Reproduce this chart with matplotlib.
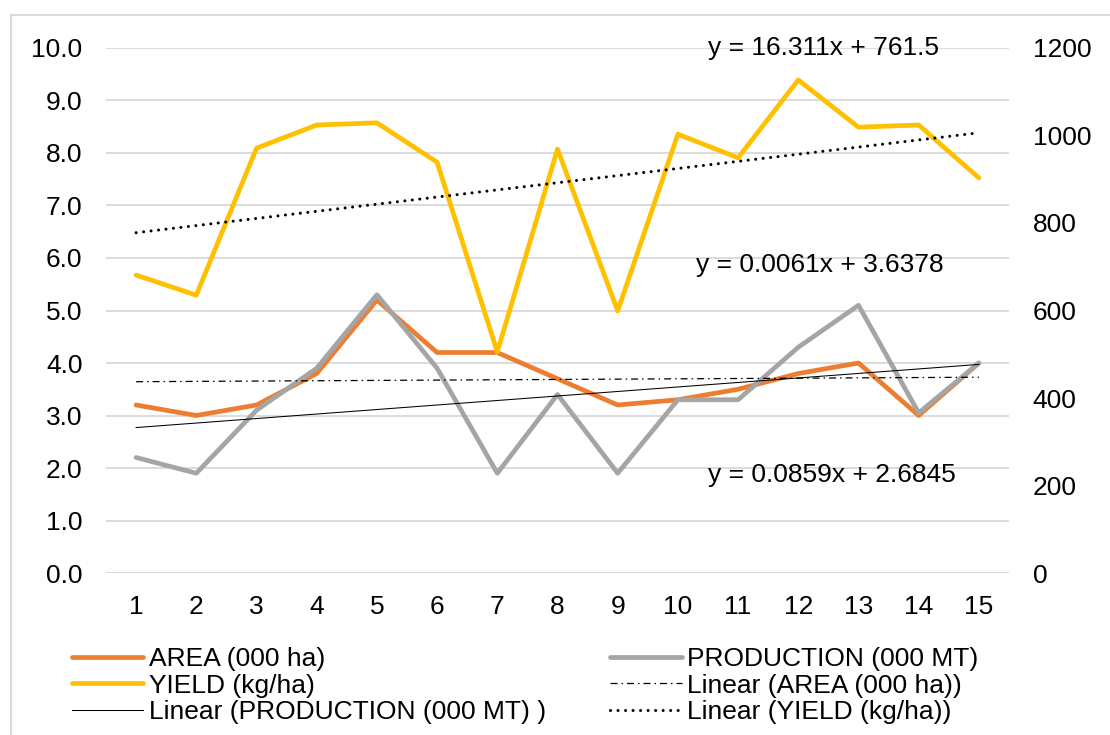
import matplotlib.pyplot as plt
from matplotlib.lines import Line2D

plt.rcParams['font.family'] = ['Liberation Sans', 'DejaVu Sans']

years = list(range(1, 16))
area = [3.2, 3.0, 3.2, 3.8, 5.2, 4.2, 4.2, 3.7, 3.2, 3.3, 3.5, 3.8, 4.0, 3.0, 4.0]
production = [2.2, 1.9, 3.1, 3.9, 5.3, 3.9, 1.9, 3.4, 1.9, 3.3, 3.3, 4.3, 5.1, 3.05, 4.0]
yield_kg = [681, 635, 971, 1024, 1029, 939, 505, 969, 599, 1003, 949, 1127, 1019, 1024, 903]

# trend line coefficients (slope, intercept)
area_fit = (0.0061, 3.6378)
prod_fit = (0.0859, 2.6845)
yield_fit = (16.311, 761.5)

left_ticks = [0, 1, 2, 3, 4, 5, 6, 7, 8, 9, 10]
right_ticks = [0, 200, 400, 600, 800, 1000, 1200]

orange = '#ED7D31'
grey = '#A5A5A5'
gold = '#FFC000'
fs = 19

fig = plt.figure(figsize=(11.1, 7.35), dpi=100)
ax = fig.add_axes([0.0955, 0.2204, 0.8135, 0.7143])
ax2 = ax.twinx()

# frame around the whole chart (left and top edges only visible)
fig.add_artist(Line2D([11 / 1110, 11 / 1110], [0, 1 - 15 / 735], transform=fig.transFigure,
                      color='#D9D9D9', lw=1.5))
fig.add_artist(Line2D([11 / 1110, 1], [1 - 15 / 735, 1 - 15 / 735], transform=fig.transFigure,
                      color='#D9D9D9', lw=1.5))

l_area, = ax.plot(years, area, color=orange, lw=3.4, solid_capstyle='round',
                  solid_joinstyle='round', label='AREA (000 ha)', zorder=3)
l_prod, = ax.plot(years, production, color=grey, lw=3.4, solid_capstyle='round',
                  solid_joinstyle='round', label='PRODUCTION (000 MT)', zorder=4)

area_trend = [area_fit[0] * x + area_fit[1] for x in years]
prod_trend = [prod_fit[0] * x + prod_fit[1] for x in years]
yield_trend = [yield_fit[0] * x + yield_fit[1] for x in years]

t_area, = ax.plot(years, area_trend, color='black', lw=0.9,
                  linestyle=(0, (5.6, 3.2, 1.2, 3.2)), label='Linear (AREA (000 ha))', zorder=5)
t_prod, = ax.plot(years, prod_trend, color='black', lw=0.75,
                  label='Linear (PRODUCTION (000 MT) )', zorder=5)

l_yield, = ax2.plot(years, yield_kg, color=gold, lw=3.4, solid_capstyle='round',
                    solid_joinstyle='round', label='YIELD (kg/ha)', zorder=3)
t_yield, = ax2.plot(years, yield_trend, color='black', lw=2.2, dash_capstyle='round',
                    linestyle=(0, (0.01, 2.45)), label='Linear (YIELD (kg/ha))', zorder=4)

ax.set_xlim(0.5, 15.5)
ax.set_ylim(0, 10)
ax2.set_ylim(0, 1200)
ax.set_xticks(years)
ax.set_yticks(left_ticks)
ax.set_yticklabels([f'{v:.1f}' for v in left_ticks])
ax2.set_yticks(right_ticks)

ax.grid(axis='y', color='#D9D9D9', lw=1.3)
ax.set_axisbelow(True)
for a in (ax, ax2):
    for s in a.spines.values():
        s.set_visible(False)
ax.tick_params(axis='both', length=0, labelsize=fs, colors='black')
ax.tick_params(axis='y', pad=17)
ax.tick_params(axis='x', pad=16)
ax2.tick_params(axis='y', length=0, labelsize=fs, pad=17, colors='black')

ax.text(10.5, 10.0, f'y = {yield_fit[0]}x + {yield_fit[1]}', fontsize=fs, va='center', ha='left')
ax.text(10.3, 5.87, f'y = {area_fit[0]}x + {area_fit[1]}', fontsize=fs, va='center', ha='left')
ax.text(10.5, 1.87, f'y = {prod_fit[0]}x + {prod_fit[1]}', fontsize=fs, va='center', ha='left')

handles = [l_area, l_yield, t_prod, l_prod, t_area, t_yield]
fig.legend(handles=handles, labels=[h.get_label() for h in handles], ncol=2,
           loc='upper left', bbox_to_anchor=(72 / 1110, 1 - 647 / 735), frameon=False,
           fontsize=fs, handlelength=2.7, handletextpad=0.2, columnspacing=2.45,
           labelspacing=0.1, borderpad=0, borderaxespad=0)

fig.savefig('out.png', dpi=100, facecolor='white')
